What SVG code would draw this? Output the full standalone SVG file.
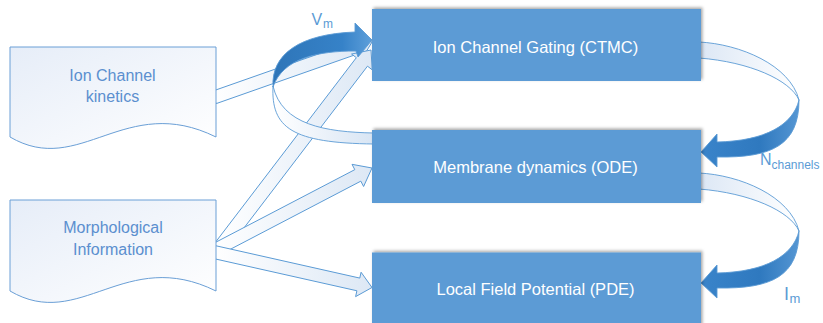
<svg xmlns="http://www.w3.org/2000/svg" width="823" height="323" viewBox="0 0 823 323">
<defs>
<style>
.doc{fill:url(#docGrad);stroke:#6A9FD6;stroke-width:1}
.doctxt{font-family:"Liberation Sans",Arial,sans-serif;font-size:16px;fill:#5B8FCF;text-anchor:middle}
.box{fill:#5B9BD5;filter:url(#sh)}
.boxtxt{font-family:"Liberation Sans",Arial,sans-serif;font-size:16.5px;fill:#FFFFFF;text-anchor:middle}
.blk{fill:url(#blkGrad);stroke:#5B9BD5;stroke-width:1;stroke-linejoin:miter}
.rib{stroke:#5B9BD5;stroke-width:0.9}
.lbl{font-family:"Liberation Sans",Arial,sans-serif;font-size:16px;fill:#5B9BD5}
.sub{font-family:"Liberation Sans",Arial,sans-serif;font-size:12px;fill:#5B9BD5}
</style>
<linearGradient id="docGrad" x1="0" y1="0" x2="1" y2="1">
<stop offset="0" stop-color="#E6EDF8"/>
<stop offset="1" stop-color="#FFFFFF"/>
</linearGradient>
<linearGradient id="blkGrad" x1="0" y1="0" x2="1" y2="0">
<stop offset="0" stop-color="#FFFFFF"/>
<stop offset="1" stop-color="#DDE8F5"/>
</linearGradient>
<linearGradient id="ribL" x1="0" y1="0" x2="1" y2="0">
<stop offset="0" stop-color="#FFFFFF"/>
<stop offset="1" stop-color="#D8E5F4"/>
</linearGradient>
<linearGradient id="ribR" x1="0" y1="0" x2="1" y2="0">
<stop offset="0" stop-color="#DCE7F5"/>
<stop offset="1" stop-color="#FFFFFF"/>
</linearGradient>
<linearGradient id="darkL" x1="0" y1="0" x2="1" y2="0">
<stop offset="0" stop-color="#2E75B8"/>
<stop offset="0.7" stop-color="#3682C8"/>
<stop offset="1" stop-color="#5E9FDA"/>
</linearGradient>
<linearGradient id="darkR" x1="0" y1="0" x2="1" y2="0">
<stop offset="0" stop-color="#3A84CA"/>
<stop offset="0.6" stop-color="#2F79BF"/>
<stop offset="1" stop-color="#5596D3"/>
</linearGradient>
<filter id="sh" x="-5%" y="-20%" width="110%" height="140%">
<feDropShadow dx="1.5" dy="-1.5" stdDeviation="1.5" flood-color="#000000" flood-opacity="0.35"/>
</filter>
</defs>
<rect width="823" height="323" fill="#FFFFFF"/>

<g id="connectors">
<polygon id="e-kin-ctmc" class="blk" points="216.15,103.63 360.0,53.1 361.99,58.76 372,42 353.71,35.18 355.7,40.84 211.85,91.37"/>
<polygon id="e-morph-ctmc" class="blk" points="226.7,250.6 367.47,66.18 372.24,69.82 371,50 351.56,54.04 356.33,57.68 215.6,242.1"/>
<polygon id="e-morph-ode" class="blk" points="217.01,256.26 360.82,181.17 363.6,186.49 372,168 352.02,164.33 354.8,169.65 210.99,244.74"/>
<polygon id="e-morph-pde" class="blk" points="212.57,258.34 356.91,290.77 355.6,296.63 372,287.5 361.08,272.23 359.77,278.09 215.43,245.66"/>

<g id="e-ode-ctmc">
<path class="rib" fill="url(#ribL)" d="M273,86 C271,128 292,143 374,144 L374,133 C325,132 282,125 273,86 Z"/>
<path class="rib" fill="url(#darkL)" stroke="#2E75B8" d="M273,87 C271,54 300,34 355,32 L355,23 L372,40 L358,57 L356,51 C318,51 283,58 273,87 Z"/>
<text class="lbl" x="311.5" y="25">V</text><text class="sub" x="323" y="28">m</text>
</g>

<g id="e-ctmc-ode">
<path class="rib" fill="url(#ribR)" d="M699,42 C740,44 790,65 799,100 C790,80 750,62 699,58 Z"/>
<path class="rib" fill="url(#darkR)" stroke="#2E75B8" d="M799,100 C799,145 772,158 717,157 L717,167 L701,152 L717,134 L717,142 C765,141 793,125 799,100 Z"/>
<text class="lbl" x="760" y="165">N</text><text class="sub" x="771.5" y="169">channels</text>
</g>

<g id="e-ode-pde">
<g transform="translate(0,131)">
<path class="rib" fill="url(#ribR)" d="M699,42 C740,44 790,65 799,100 C790,80 750,62 699,58 Z"/>
<path class="rib" fill="url(#darkR)" stroke="#2E75B8" d="M799,100 C799,145 772,158 717,157 L717,167 L701,152 L717,134 L717,142 C765,141 793,125 799,100 Z"/>
</g>
<text class="lbl" x="784" y="299.5" style="font-size:18px">I</text><text class="sub" x="789.5" y="302.5" style="font-size:13px">m</text>
</g>
</g>

<g id="node-kinetics">
<path class="doc" d="M10,47 H216 V137 C125,92 80,178 10,137 Z"/>
<text class="doctxt" x="112.5" y="81">Ion Channel</text>
<text class="doctxt" x="112.5" y="101.5">kinetics</text>
</g>

<g id="node-morph">
<path class="doc" d="M10,200 H216 V291 C125,246 80,332 10,291 Z"/>
<text class="doctxt" x="113" y="233">Morphological</text>
<text class="doctxt" x="113" y="255">Information</text>
</g>

<g id="node-ctmc">
<rect class="box" x="372" y="9" width="329" height="72"/>
<text class="boxtxt" x="535.5" y="52.5">Ion Channel Gating (CTMC)</text>
</g>

<g id="node-ode">
<rect class="box" x="372" y="130" width="329" height="73"/>
<text class="boxtxt" x="535.5" y="173.3">Membrane dynamics (ODE)</text>
</g>

<g id="node-pde">
<rect class="box" x="372" y="252.5" width="329" height="75"/>
<text class="boxtxt" x="535.5" y="294.7">Local Field Potential (PDE)</text>
</g>
</svg>
